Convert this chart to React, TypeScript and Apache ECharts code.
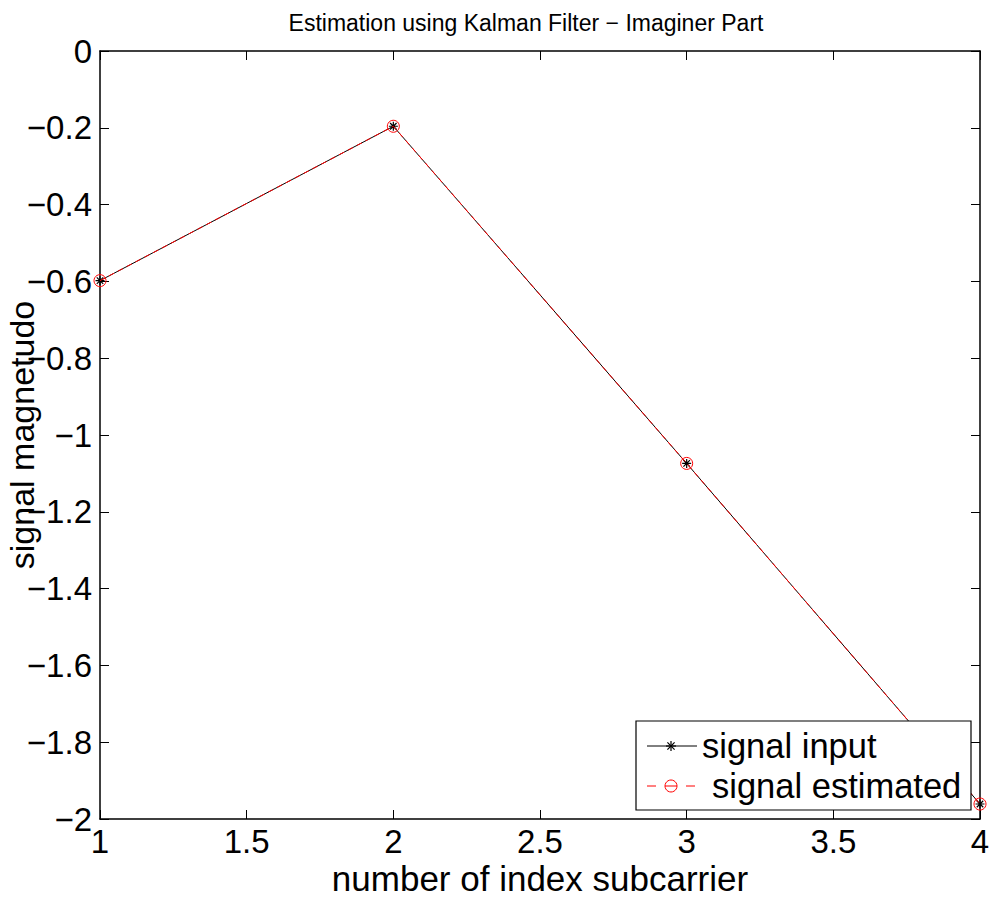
import React, { useEffect, useRef } from "react";
import * as echarts from "echarts";

const xValues = [1, 2, 3, 4];
const signalInput = [-0.598, -0.196, -1.074, -1.961];
const signalEstimated = [-0.598, -0.196, -1.074, -1.961];
const title = "Estimation using Kalman Filter \u2212 Imaginer Part";
const xName = "number of index subcarrier";
const yName = "signal magnetudo";
const legendNames = ["signal input", "signal estimated"];

const FONT = "'Liberation Sans', Arial, Helvetica, sans-serif";
const ASTERISK = "path://M0,-5L0,5M-5,0L5,0M-3.6,-3.6L3.6,3.6M-3.6,3.6L3.6,-3.6";

const fmt = (v: number) => {
  const s = String(Math.round(v * 10) / 10);
  return s.replace("-", "\u2212");
};

export default function App() {
  const ref = useRef<HTMLDivElement>(null);
  useEffect(() => {
    if (!ref.current) return;
    const chart = echarts.init(ref.current, null, { renderer: "svg" });
    const axisCommon = {
      type: "value" as const,
      axisLine: { show: true, onZero: false, lineStyle: { color: "#000", width: 1.5 } },
      axisTick: { show: true, inside: true, length: 9, lineStyle: { color: "#000", width: 1 } },
      splitLine: { show: false },
    };
    const pairs1 = xValues.map((x, i) => [x, signalInput[i]]);
    const pairs2 = xValues.map((x, i) => [x, signalEstimated[i]]);
    chart.setOption({
      animation: false,
      backgroundColor: "#fff",
      title: {
        text: title,
        left: 521,
        textAlign: "center",
        top: 6,
        textStyle: { fontFamily: FONT, fontSize: 23, fontWeight: "normal", color: "#000" },
      },
      grid: { left: 100, right: 12, top: 51, bottom: 85, containLabel: false, outerBoundsMode: "none" },
      xAxis: [
        {
          ...axisCommon,
          position: "bottom",
          min: 1,
          max: 4,
          interval: 0.5,
          name: xName,
          nameLocation: "middle",
          nameGap: 42,
          nameMoveOverlap: false,
          nameTextStyle: { fontFamily: FONT, fontSize: 35, color: "#000" },
          axisLabel: { fontFamily: FONT, fontSize: 33, color: "#000", margin: 6, formatter: (v: number) => String(v) },
        },
        {
          ...axisCommon,
          position: "top",
          min: 1,
          max: 4,
          interval: 0.5,
          axisLabel: { show: false },
        },
      ],
      yAxis: [
        {
          ...axisCommon,
          position: "left",
          min: -2,
          max: 0,
          interval: 0.2,
          name: yName,
          nameLocation: "middle",
          nameGap: 61,
          nameMoveOverlap: false,
          nameTextStyle: { fontFamily: FONT, fontSize: 34, color: "#000" },
          axisLabel: { fontFamily: FONT, fontSize: 33, color: "#000", margin: 8, formatter: fmt },
        },
        {
          ...axisCommon,
          position: "right",
          min: -2,
          max: 0,
          interval: 0.2,
          axisLabel: { show: false },
        },
      ],
      series: [
        {
          name: legendNames[0],
          type: "line",
          data: pairs1,
          symbol: ASTERISK,
          symbolSize: 9,
          showAllSymbol: true,
          lineStyle: { color: "#000", width: 1 },
          itemStyle: { color: "none", borderColor: "#000", borderWidth: 1.2 },
          z: 2,
        },
        {
          name: legendNames[1],
          type: "line",
          data: pairs2,
          symbol: "circle",
          symbolSize: 12,
          showAllSymbol: true,
          lineStyle: { color: "#ff0000", width: 1, type: [6, 4] },
          itemStyle: { color: "none", borderColor: "#ff0000", borderWidth: 1 },
          z: 3,
        },
      ],
      graphic: [
        {
          type: "rect",
          shape: { x: 636, y: 721, width: 335, height: 89 },
          style: { fill: "#fff", stroke: "#000", lineWidth: 1.2 },
          z: 100,
        },
        {
          type: "line",
          shape: { x1: 647, y1: 746, x2: 697, y2: 746 },
          style: { stroke: "#000", lineWidth: 1 },
          z: 101,
        },
        { type: "line", shape: { x1: 666, y1: 746, x2: 676, y2: 746 }, style: { stroke: "#000", lineWidth: 1.2 }, z: 101 },
        { type: "line", shape: { x1: 671, y1: 741, x2: 671, y2: 751 }, style: { stroke: "#000", lineWidth: 1.2 }, z: 101 },
        { type: "line", shape: { x1: 667.4, y1: 742.4, x2: 674.6, y2: 749.6 }, style: { stroke: "#000", lineWidth: 1.2 }, z: 101 },
        { type: "line", shape: { x1: 667.4, y1: 749.6, x2: 674.6, y2: 742.4 }, style: { stroke: "#000", lineWidth: 1.2 }, z: 101 },
        {
          type: "text",
          style: { text: legendNames[0], x: 702, y: 746, fontFamily: FONT, fontSize: 34.5, fill: "#000", verticalAlign: "middle" },
          z: 101,
        },
        { type: "line", shape: { x1: 647, y1: 786, x2: 656, y2: 786 }, style: { stroke: "#ff0000", lineWidth: 1 }, z: 101 },
        { type: "line", shape: { x1: 686, y1: 786, x2: 695, y2: 786 }, style: { stroke: "#ff0000", lineWidth: 1 }, z: 101 },
        { type: "circle", shape: { cx: 671, cy: 786, r: 6 }, style: { fill: "none", stroke: "#ff0000", lineWidth: 1 }, z: 101 },
        { type: "line", shape: { x1: 665, y1: 786, x2: 677, y2: 786 }, style: { stroke: "#ff0000", lineWidth: 1 }, z: 101 },
        {
          type: "text",
          style: { text: legendNames[1], x: 712, y: 786, fontFamily: FONT, fontSize: 34.5, fill: "#000", verticalAlign: "middle" },
          z: 101,
        },
      ],
    });
    return () => chart.dispose();
  }, []);
  return <div ref={ref} style={{ width: 992, height: 904, position: "absolute", left: 0, top: 0 }} />;
}
